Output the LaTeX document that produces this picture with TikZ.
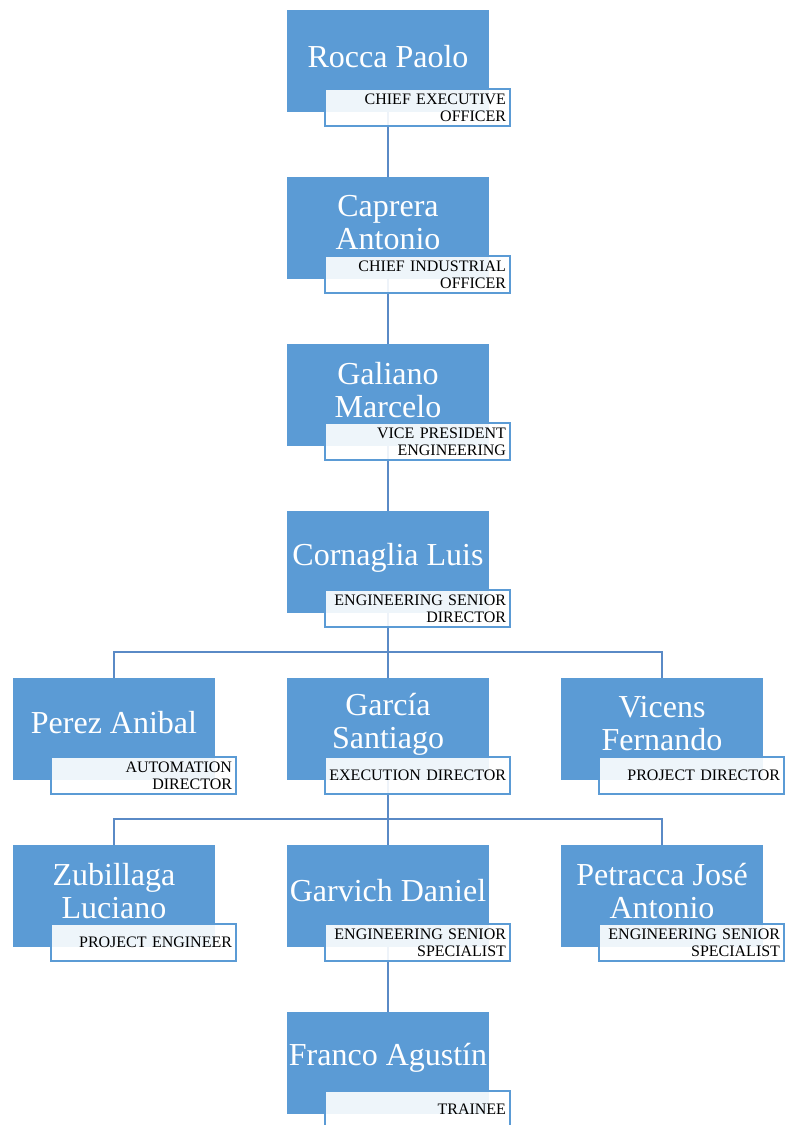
\documentclass[tikz,border=0pt]{standalone}
\usepackage{fontspec}
\setmainfont{Liberation Serif}
\usepackage{xcolor}
\usepackage{tikz}
\usetikzlibrary{positioning, backgrounds}

\definecolor{boxblue}{HTML}{5B9BD5}
\definecolor{lineblue}{HTML}{5A8AC6}

\begin{document}
\begin{tikzpicture}[x=1pt, y=-1pt,
        box/.style={rectangle, fill=boxblue, minimum width=202pt, minimum height=102pt, inner sep=0pt, outer sep=0pt},
        who/.style={text=white, align=center, inner sep=0pt, font=\fontsize{32}{33}\selectfont},
        role/.style={rectangle, draw=boxblue, line width=2pt, fill=white, fill opacity=0.9, text opacity=1,
            minimum width=185pt, minimum height=37pt, text width=177pt, inner xsep=4pt, inner ysep=0pt,
            align=right, font=\fontsize{16}{17}\selectfont, anchor=south east, xshift=22pt, yshift=-15pt},
        link/.style={draw=lineblue, line width=1.5pt}]
        \useasboundingbox (0,0) rectangle (785,1125);

        % The chain at the top
        \node[box] (rocca) at (388,61) {};
        \node[box, below=65pt of rocca] (caprera) {};
        \node[box, below=65pt of caprera] (galiano) {};
        \node[box, below=65pt of galiano] (cornaglia) {};

        % Directors
        \node[box, below=65pt of cornaglia] (garcia) {};
        \node[box, left=72pt of garcia] (perez) {};
        \node[box, right=72pt of garcia] (vicens) {};

        % Engineers
        \node[box, below=65pt of garcia] (garvich) {};
        \node[box, left=72pt of garvich] (zubillaga) {};
        \node[box, right=72pt of garvich] (petracca) {};
        \node[box, below=65pt of garvich] (franco) {};

        % Names
        \node[who] (roccaName) at ([yshift=4pt]rocca.center) {Rocca Paolo};
        \node[who] (capreraName) at ([yshift=5pt]caprera.center) {Caprera\\Antonio};
        \node[who] (galianoName) at ([yshift=5pt]galiano.center) {Galiano\\Marcelo};
        \node[who] (cornagliaName) at ([yshift=4pt]cornaglia.center) {Cornaglia Luis};
        \node[who] (perezName) at ([yshift=6pt]perez.center) {Perez Anibal};
        \node[who] (garciaName) at ([yshift=5pt]garcia.center) {García\\Santiago};
        \node[who] (vicensName) at ([yshift=5pt]vicens.center) {Vicens\\Fernando};
        \node[who] (zubillagaName) at ([yshift=5pt]zubillaga.center) {Zubillaga\\Luciano};
        \node[who] (garvichName) at ([yshift=5pt]garvich.center) {Garvich Daniel};
        \node[who] (petraccaName) at ([yshift=5pt]petracca.center) {Petracca José\\Antonio};
        \node[who] (francoName) at ([yshift=5pt]franco.center) {Franco Agustín};

        % Roles
        \node[role] (roccaRole) at (rocca.south east) {CHIEF EXECUTIVE\\OFFICER};
        \node[role] (capreraRole) at (caprera.south east) {CHIEF INDUSTRIAL\\OFFICER};
        \node[role] (galianoRole) at (galiano.south east) {VICE PRESIDENT\\ENGINEERING};
        \node[role] (cornagliaRole) at (cornaglia.south east) {ENGINEERING SENIOR\\DIRECTOR};
        \node[role] (perezRole) at (perez.south east) {AUTOMATION\\DIRECTOR};
        \node[role] (garciaRole) at (garcia.south east) {EXECUTION DIRECTOR};
        \node[role] (vicensRole) at (vicens.south east) {PROJECT DIRECTOR};
        \node[role] (zubillagaRole) at (zubillaga.south east) {PROJECT ENGINEER};
        \node[role] (garvichRole) at (garvich.south east) {ENGINEERING SENIOR\\SPECIALIST};
        \node[role] (petraccaRole) at (petracca.south east) {ENGINEERING SENIOR\\SPECIALIST};
        \node[role] (francoRole) at (franco.south east) {TRAINEE};

        % Connectors
        \begin{scope}[on background layer]
            \draw[link] (rocca.south) -- (caprera.north);
            \draw[link] (caprera.south) -- (galiano.north);
            \draw[link] (galiano.south) -- (cornaglia.north);
            \draw[link] (cornaglia.south) -- (garcia.north);
            \draw[link] (cornaglia.south) -- ++(0,39) -| (perez.north);
            \draw[link] (cornaglia.south) -- ++(0,39) -| (vicens.north);
            \draw[link] (garcia.south) -- (garvich.north);
            \draw[link] (garcia.south) -- ++(0,39) -| (zubillaga.north);
            \draw[link] (garcia.south) -- ++(0,39) -| (petracca.north);
            \draw[link] (garvich.south) -- (franco.north);
        \end{scope}
\end{tikzpicture}
\end{document}
